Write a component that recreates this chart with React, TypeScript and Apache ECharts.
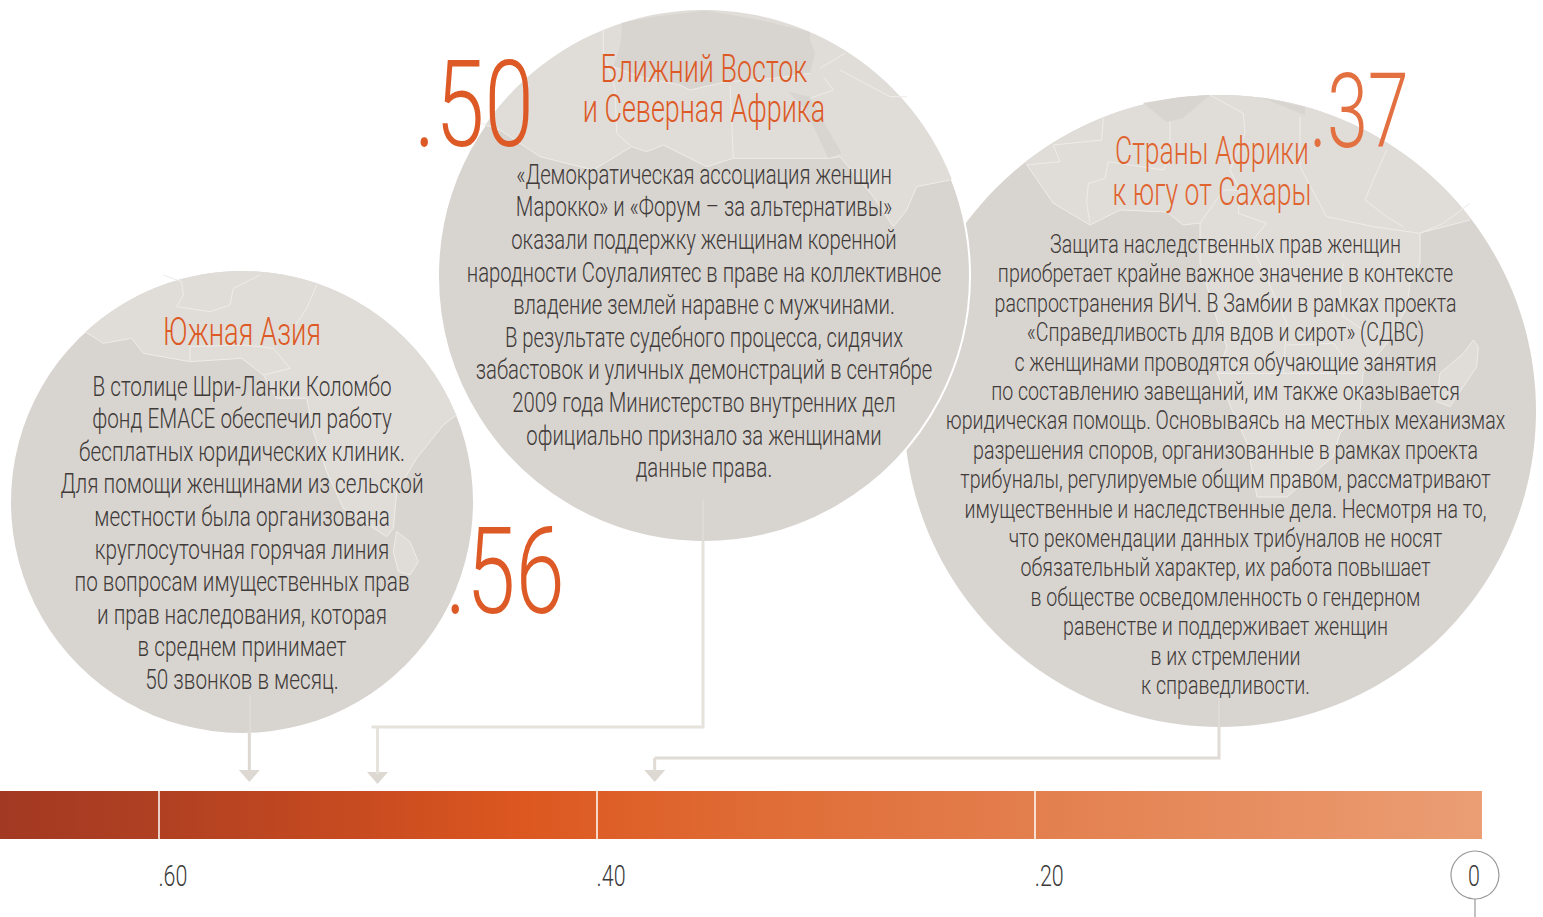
import React, { useEffect, useRef } from "react";
import * as echarts from "echarts";

const regionTitles = [
  ["Южная Азия"],
  ["Ближний Восток", "и Северная Африка"],
  ["Страны Африки", "к югу от Сахары"],
];
const regionLabels = [".56", ".50", ".37"];
// positions on the scale read from the arrow tips
const regionValues = [0.5585, 0.5, 0.3735];
const tickValues = [0.6, 0.4, 0.2];
const tickLabels = [".60", ".40", ".20"];
const zeroValue = [0];
const zeroLabel = "0";
const scaleRange = [[0.6723, -0.0041]];

const southAsiaText = [
  "В столице Шри-Ланки Коломбо",
  "фонд EMACE обеспечил работу",
  "бесплатных юридических клиник.",
  "Для помощи женщинами из сельской",
  "местности была организована",
  "круглосуточная горячая линия",
  "по вопросам имущественных прав",
  "и прав наследования, которая",
  "в среднем принимает",
  "50 звонков в месяц.",
];
const menaText = [
  "«Демократическая ассоциация женщин",
  "Марокко» и «Форум – за альтернативы»",
  "оказали поддержку женщинам коренной",
  "народности Соулалиятес в праве на коллективное",
  "владение землей наравне с мужчинами.",
  "В результате судебного процесса, сидячих",
  "забастовок и уличных демонстраций в сентябре",
  "2009 года Министерство внутренних дел",
  "официально признало за женщинами",
  "данные права.",
];
const africaText = [
  "Защита наследственных прав женщин",
  "приобретает крайне важное значение в контексте",
  "распространения ВИЧ. В Замбии в рамках проекта",
  "«Справедливость для вдов и сирот» (СДВС)",
  "с женщинами проводятся обучающие занятия",
  "по составлению завещаний, им также оказывается",
  "юридическая помощь. Основываясь на местных механизмах",
  "разрешения споров, организованные в рамках проекта",
  "трибуналы, регулируемые общим правом, рассматривают",
  "имущественные и наследственные дела. Несмотря на то,",
  "что рекомендации данных трибуналов не носят",
  "обязательный характер, их работа повышает",
  "в обществе осведомленность о гендерном",
  "равенстве и поддерживает женщин",
  "в их стремлении",
  "к справедливости.",
];

const FONT = "Roboto";
const ORANGE = "#DD5A26";
const ORANGE_MID = "#E0642F";
const ORANGE_LIGHT = "#E27040";
const INK = "#403B39";
const DISC = "#D8D4D0";
const LAND = "#E0DDD9";
const BORDER = "#EEECE9";
const CONNECTOR = "#DDD8D1";

type P = [number, number];
const map = (ox: number, oy: number, pts: number[][]): P[] => pts.map(([a, b]) => [ox + a / 3, oy + b / 3]);

// Arc from p0 to p1 running clockwise over the top of the disc
function arc(cx: number, cy: number, r: number, p0: P, p1: P): P[] {
  const a0 = Math.atan2(p0[1] - cy, p0[0] - cx);
  let a1 = Math.atan2(p1[1] - cy, p1[0] - cx);
  if (a1 < a0) a1 += Math.PI * 2;
  const out: P[] = [];
  for (let i = 0; i <= 48; i++) {
    const a = a0 + ((a1 - a0) * i) / 48;
    out.push([cx + r * Math.cos(a), cy + r * Math.sin(a)]);
  }
  return out;
}

const discs = [
  { cx: 242, cy: 502, r: 231 },
  { cx: 1220, cy: 411, r: 316 },
  { cx: 704, cy: 276, r: 266 },
];

// South Asia outline
const saCoast = map(60, 265, [[75, 200], [130, 235], [215, 220], [250, 265], [390, 290], [545, 280], [610, 330], [650, 400], [740, 400], [760, 500], [800, 620], [850, 730], [980, 815], [1000, 790], [1010, 680], [1070, 580], [1150, 480], [1190, 450]]);
const saIsland = map(60, 265, [[1010, 800], [1050, 830], [1075, 890], [1050, 930], [1015, 920], [1000, 860], [1010, 800]]);
const saLines = [
  map(60, 265, [[350, 125], [450, 140], [510, 120], [520, 70], [600, 30]]),
  map(60, 265, [[350, 125], [370, 90], [365, 50], [310, 30]]),
  map(60, 265, [[770, 60], [740, 130], [700, 190]]),
  map(60, 265, [[390, 290], [390, 245], [550, 240], [640, 250], [690, 310], [610, 330]]),
];

// Middle East and North Africa outline
const meCoast = map(440, 10, [[125, 340], [180, 360], [300, 440], [460, 480], [575, 410], [620, 425], [670, 405], [800, 470], [880, 445], [1165, 445], [1200, 440], [1250, 500], [1300, 560], [1360, 650], [1400, 600], [1430, 530], [1530, 510]]);
const meSea = map(440, 10, [[545, 39], [640, 20], [800, 2], [960, 30], [1110, 66], [1110, 90], [1125, 130], [1110, 190], [1000, 205], [860, 215], [750, 240], [720, 225], [600, 200], [520, 170], [540, 110], [545, 70]]);
const meRedSea = map(440, 10, [[1045, 245], [1090, 290], [1130, 370], [1165, 445], [1205, 430], [1170, 370], [1130, 300], [1110, 260]]);
const meLines = [
  map(440, 10, [[490, 60], [490, 130], [525, 235], [530, 370], [575, 410]]),
  map(440, 10, [[870, 225], [880, 445]]),
  map(440, 10, [[1200, 180], [1350, 260], [1400, 260]]),
  map(440, 10, [[1215, 130], [1140, 175]]),
  map(440, 10, [[1150, 200], [1180, 240], [1110, 265]]),
  map(440, 10, [[1110, 190], [1000, 205], [860, 215], [750, 240], [720, 225], [600, 200], [520, 170]]),
];

// Sub-Saharan Africa outline
const afCoast: P[] = [[1027, 165], [1053, 203], [1090, 225], [1120, 210], [1167, 212], [1183, 225], [1200, 223], [1200, 263], [1217, 320], [1227, 347], [1217, 373], [1232, 410], [1247, 443], [1257, 497], [1287, 497], [1317, 470], [1333, 457], [1340, 433], [1360, 413], [1363, 373], [1387, 343], [1407, 307], [1410, 283], [1420, 263], [1420, 233], [1470, 220]];
const afDark1: P[] = [[1143, 103], [1167, 122], [1183, 118], [1210, 95], [1180, 97]];
const afDark2: P[] = [[1260, 97], [1305, 115], [1305, 107]];
const afMadagascar = map(1010, 90, [[1390, 750], [1405, 770], [1400, 830], [1320, 950], [1280, 935], [1290, 850], [1360, 790], [1390, 750]]);
const afLines = [
  map(1010, 90, [[280, 85], [275, 150], [130, 165], [150, 215], [50, 225]]),
  map(1010, 90, [[480, 95], [480, 200], [460, 240], [295, 215], [285, 265], [235, 280], [230, 340], [240, 400]]),
  map(1010, 90, [[600, 15], [700, 70], [705, 130], [660, 240], [690, 300], [685, 370], [770, 400]]),
  map(1010, 90, [[870, 80], [870, 230], [950, 380], [1090, 410], [1230, 430]]),
  map(1010, 90, [[1130, 180], [1090, 270], [1065, 330], [1130, 380], [1180, 410]]),
  map(1010, 90, [[1380, 340], [1300, 400], [1230, 430]]),
  map(1010, 90, [[570, 400], [640, 300], [690, 300]]),
  map(1010, 90, [[770, 400], [720, 460], [750, 520], [830, 700], [820, 850]]),
  map(1010, 90, [[1000, 520], [990, 600], [1000, 680], [1060, 720]]),
  map(1010, 90, [[830, 765], [970, 760], [1040, 850], [620, 850]]),
];

const land = (pts: P[], disc: { cx: number; cy: number; r: number }, z: number) => ({
  type: "polygon",
  z,
  silent: true,
  shape: { points: [...arc(disc.cx, disc.cy, disc.r, pts[0], pts[pts.length - 1]), ...pts.slice(1, -1).reverse()] },
  style: { fill: LAND },
});
const patch = (pts: P[], fill: string, z: number) => ({ type: "polygon", z, silent: true, shape: { points: pts }, style: { fill } });
const rule = (pts: P[], z: number) => ({ type: "polyline", z, silent: true, shape: { points: pts }, style: { stroke: BORDER, fill: "none", lineWidth: 1 } });

const text = (s: string, x: number, y: number, size: number, color: string, scaleX: number, weight = 300) => ({
  type: "text",
  z: 30,
  x,
  y,
  scaleX,
  silent: true,
  style: { text: s, fill: color, font: `${weight} ${size}px ${FONT}`, textAlign: "center", textVerticalAlign: "middle" },
});

function lines(arr: string[], x: number, y0: number, dy: number, size: number, color: string, scaleX: number) {
  return arr.map((s, i) => text(s, x, y0 + i * dy, size, color, scaleX));
}

const graphicElements = [
  { type: "circle", z: 1, silent: true, shape: { cx: discs[0].cx, cy: discs[0].cy, r: discs[0].r }, style: { fill: DISC } },
  land(saCoast, discs[0], 2),
  rule(saCoast, 3),
  patch(saIsland, LAND, 3),
  rule(saIsland, 3),
  ...saLines.map((l) => rule(l, 3)),

  { type: "circle", z: 4, silent: true, shape: { cx: discs[1].cx, cy: discs[1].cy, r: discs[1].r }, style: { fill: DISC } },
  land(afCoast, discs[1], 5),
  patch(afDark1, DISC, 6),
  patch(afDark2, DISC, 6),
  rule(afCoast, 6),
  patch(afMadagascar, LAND, 6),
  rule(afMadagascar, 6),
  ...afLines.map((l) => rule(l, 6)),

  { type: "circle", z: 7, silent: true, shape: { cx: discs[2].cx, cy: discs[2].cy, r: discs[2].r }, style: { fill: DISC, stroke: "#ffffff", lineWidth: 2 } },
  land(meCoast, discs[2], 8),
  patch(meSea, DISC, 9),
  patch(meRedSea, DISC, 9),
  rule(meCoast, 9),
  ...meLines.map((l) => rule(l, 9)),

  text(regionTitles[0][0], 242, 332, 39, ORANGE, 0.70),
  text(regionTitles[1][0], 704, 69, 39, ORANGE, 0.69),
  text(regionTitles[1][1], 704, 109, 39, ORANGE, 0.69),
  text(regionTitles[2][0], 1212, 151, 39, ORANGE_MID, 0.68),
  text(regionTitles[2][1], 1212, 192, 39, ORANGE_MID, 0.68),

  ...lines(southAsiaText, 242, 386, 32.6, 28, INK, 0.74),
  ...lines(menaText, 704, 174, 32.6, 28, INK, 0.725),
  ...lines(africaText, 1225.5, 244.5, 29.4, 26, INK, 0.754),

  text(regionLabels[0], 505, 572.5, 120, ORANGE, 0.74),
  text(regionLabels[1], 474, 105.5, 120, ORANGE, 0.74),
  text(regionLabels[2], 1359, 111.5, 104, ORANGE_LIGHT, 0.71),
];

const connectorSourceX = [250, 703, 1219];
const connectorInnerY = [695, 500, 695];
const connectorEdgeY = [733, 542, 727];
const connectorElbowY = [772, 727, 758];
const connectorTipY = [782, 784, 782];
const connectorTone = ["#DDD8D1", "#E6E2DC", "#E0DCD5"];

function renderConnector(params: any, api: any) {
  const i = params.dataIndex;
  const x = api.coord([api.value(0), 0])[0];
  const tip = connectorTipY[i];
  const sx = connectorSourceX[i];
  const points: P[] =
    i === 0
      ? [[x, connectorEdgeY[i]], [x, tip - 10]]
      : [[sx, connectorEdgeY[i]], [sx, connectorElbowY[i]], [i === 1 ? x - 6 : x, connectorElbowY[i]]];
  const children: any[] = [
    { type: "line", shape: { x1: sx, y1: connectorInnerY[i], x2: sx, y2: connectorEdgeY[i] }, style: { stroke: "#DEDAD6", lineWidth: 2 } },
    { type: "polyline", shape: { points }, style: { stroke: connectorTone[i], fill: "none", lineWidth: 3 } },
    { type: "polygon", shape: { points: [[x - 10.5, tip - 12], [x + 10.5, tip - 12], [x, tip]] }, style: { fill: CONNECTOR } },
  ];
  if (i > 0) {
    children.push({ type: "line", shape: { x1: x, y1: connectorElbowY[i], x2: x, y2: tip - 10 }, style: { stroke: connectorTone[i], lineWidth: 3 } });
  }
  return { type: "group", children };
}

function renderBar(_: any, api: any) {
  const x0 = api.coord([api.value(0), 0])[0];
  const x1 = api.coord([api.value(1), 0])[0];
  return {
    type: "rect",
    shape: { x: x0, y: 791, width: x1 - x0, height: 48 },
    style: {
      fill: {
        type: "linear", x: 0, y: 0, x2: 1, y2: 0,
        colorStops: [
          { offset: 0, color: "#A23922" },
          { offset: 0.107, color: "#B04022" },
          { offset: 0.25, color: "#C94C20" },
          { offset: 0.35, color: "#DC5720" },
          { offset: 0.4, color: "#DD5E26" },
          { offset: 0.53, color: "#E06E38" },
          { offset: 0.7, color: "#E37F4E" },
          { offset: 1, color: "#EB9E74" },
        ],
      },
    },
  };
}

function renderTickLabel(params: any, api: any) {
  const x = api.coord([api.value(0), 0])[0];
  return {
    type: "text",
    x,
    y: 876,
    scaleX: 0.74,
    style: { text: tickLabels[params.dataIndex], fill: "#3a3a3a", font: `300 29px ${FONT}`, textAlign: "left", textVerticalAlign: "middle" },
  };
}

function renderZero(_: any, api: any) {
  const x = api.coord([api.value(0), 0])[0] + 2;
  return {
    type: "group",
    children: [
      { type: "circle", shape: { cx: x, cy: 875, r: 24 }, style: { fill: "#fff", stroke: "#999999", lineWidth: 1.2 } },
      { type: "line", shape: { x1: x, y1: 899, x2: x, y2: 917 }, style: { stroke: "#999999", lineWidth: 1.2 } },
      { type: "text", x: x - 1, y: 876, scaleX: 0.74, style: { text: zeroLabel, fill: "#3a3a3a", font: `300 29px ${FONT}`, textAlign: "center", textVerticalAlign: "middle" } },
    ],
  };
}

export default function App() {
  const ref = useRef<HTMLDivElement>(null);
  useEffect(() => {
    const chart = echarts.init(ref.current!, undefined, { renderer: "svg" });
    chart.setOption({
      animation: false,
      backgroundColor: "#ffffff",
      grid: { left: 0, width: 1543, top: 791, height: 48 },
      xAxis: {
        type: "value",
        inverse: true,
        min: -0.03195,
        max: 0.6723,
        z: 10,
        axisLine: { show: false },
        splitLine: { show: false },
        axisLabel: { show: false },
        axisTick: { show: true, inside: true, length: 48, customValues: tickValues, lineStyle: { color: "#ffffff", width: 1.5 } },
      },
      yAxis: { type: "value", min: 0, max: 1, show: false },
      graphic: { elements: graphicElements },
      series: [
        { type: "custom", name: "scale", z: 2, data: scaleRange, encode: { x: [0, 1] }, renderItem: renderBar, silent: true },
        { type: "custom", name: "regions", z: 12, data: regionValues.map((v) => [v]), encode: { x: 0 }, renderItem: renderConnector, silent: true },
        { type: "custom", name: "ticks", z: 12, data: tickValues.map((v) => [v]), encode: { x: 0 }, renderItem: renderTickLabel, silent: true },
        { type: "custom", name: "zero", z: 12, data: zeroValue.map((v) => [v]), encode: { x: 0 }, renderItem: renderZero, silent: true },
      ],
    });
    return () => chart.dispose();
  }, []);
  return <div ref={ref} style={{ position: "absolute", left: 0, top: 0, width: 1543, height: 917 }} />;
}
